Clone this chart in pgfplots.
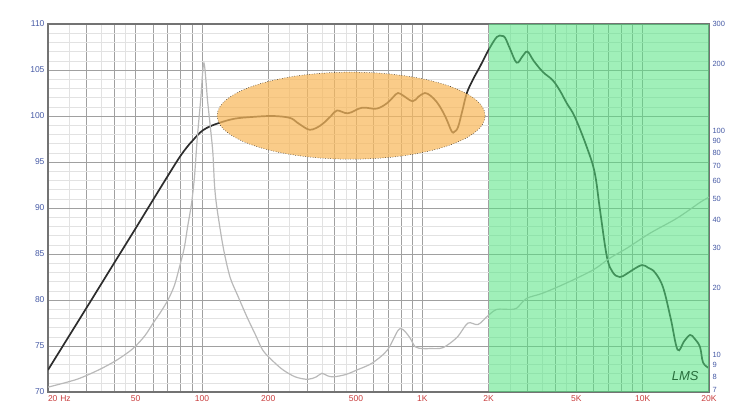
\documentclass[border=0pt]{standalone}
\usepackage{fontspec}
\setmainfont{Liberation Sans}
\usepackage{pgfplots}
\usepackage{pgfplotstable}
\pgfplotsset{compat=1.18}

\definecolor{tickblue}{RGB}{70,90,165}
\definecolor{tickred}{RGB}{200,60,60}
\definecolor{gridmaj}{RGB}{160,160,160}
\definecolor{gridmin}{RGB}{226,226,226}
\definecolor{framecol}{RGB}{115,115,115}
\definecolor{splcol}{RGB}{45,45,45}
\definecolor{impcol}{RGB}{185,185,185}
\definecolor{bandgreen}{RGB}{82,228,128}
\definecolor{ovalorange}{RGB}{248,184,91}
\definecolor{lmsgreen}{RGB}{40,110,60}

% SPL response (Hz, dB)
\pgfplotstableread{
f spl
20 72.4
30 79.2
40 84.05
50 87.8
60 90.9
70 93.5
79 95.5
86 96.7
92 97.5
98 98.2
105 98.7
118 99.2
140 99.7
170 99.9
210 100.0
250 99.8
270 99.3
290 98.8
308 98.5
330 98.7
355 99.2
385 100.0
410 100.6
460 100.3
532 100.9
620 100.8
692 101.4
740 102.1
776 102.5
820 102.2
904 101.6
960 102.1
1026 102.5
1090 102.2
1164 101.5
1230 100.6
1290 99.6
1360 98.3
1400 98.3
1452 98.8
1520 100.6
1592 102.5
1700 104.0
1820 105.3
2000 107.2
2180 108.6
2300 108.7
2375 108.5
2500 107.3
2680 105.8
2850 106.5
3000 107.0
3200 106.0
3520 104.8
3900 103.9
4200 102.8
4520 101.4
4920 99.9
5580 96.6
6060 93.8
6400 89.8
6880 84.7
7320 83.0
7870 82.5
8400 82.8
9040 83.3
9940 83.8
10600 83.5
11360 83.0
12360 81.4
13400 78.0
14400 74.6
15400 75.5
16400 76.2
17200 75.8
18200 74.9
18800 73.2
20000 72.6
}\spltable

% impedance (Hz, Ohm)
\pgfplotstableread{
f z
20 7.2
27 7.8
34 8.6
41 9.5
48.6 10.7
55 12.2
60 13.9
65 15.6
70 17.6
75 20.5
79 24.7
83 30
86 37.3
88 42.5
90 49
92.5 63
95 91
98.5 136
102 201
106 136
109 105
112 80
114 57
117 45
125 30
134 22.3
145 18.5
160 14.8
175 12.3
189 10.5
210 9.4
233 8.6
265 8.0
302 7.8
330 8.0
350 8.3
370 8.1
394 8.0
450 8.2
506 8.6
590 9.2
692 10.5
776 12.9
817 13.0
876 12.0
928 10.9
1000 10.7
1084 10.7
1240 10.8
1436 12.0
1610 13.9
1790 13.7
2000 15.1
2180 16.0
2500 16.0
2680 16.2
2970 17.9
3520 18.9
4520 21
5960 24
7100 27.1
8480 30
10800 35
14360 40.9
18200 48
20000 50.7
}\imptable

\begin{document}
\begin{tikzpicture}
\begin{axis}[
  xmode=log, xmin=20, xmax=20000,
  scale only axis, width=661pt, height=368pt,
  ymin=70, ymax=110,
  xtick={20,30,40,50,60,70,80,90,100,200,300,400,500,600,700,800,900,1000,
         2000,3000,4000,5000,6000,7000,8000,9000,10000,20000},
  xticklabels={\rlap{20\,\,Hz},,,50,,,,,100,200,,,500,,,,,1K,2K,,,5K,,,,,10K,20K},
  minor xtick={25,35,45,250,350,450,2500,3500,4500},
  ytick={70,75,...,110},
  minor ytick={71,72,73,74,76,77,78,79,81,82,83,84,86,87,88,89,91,92,93,94,
               96,97,98,99,101,102,103,104,106,107,108,109},
  grid=both,
  major grid style={gridmaj, line width=0.8pt},
  minor grid style={gridmin, line width=0.6pt},
  major tick length=0pt, minor tick length=0pt,
  ticklabel style={font=\fontsize{8.5}{10}\selectfont},
  xticklabel style={text=tickred},
  yticklabel style={text=tickblue},
  axis line style={framecol, line width=1.8pt},
  /pgf/number format/assume math mode=true,
]
\addplot[splcol, line width=1.7pt, smooth, tension=0.6] table[x=f, y=spl] {\spltable};
\node[anchor=south west, inner sep=1pt, text=tickblue, font=\fontsize{8}{9}\selectfont]
  at (rel axis cs:0,1) {dBSPL};
\node[anchor=south east, inner sep=1pt, text=tickblue, font=\fontsize{8}{9}\selectfont]
  at (rel axis cs:1,1) {Ohm};
\end{axis}

\begin{axis}[
  xmode=log, xmin=20, xmax=20000,
  ymode=log, ymin=6.85, ymax=300,
  scale only axis, width=661pt, height=368pt,
  axis x line=none,
  axis y line*=right,
  y axis line style={framecol, line width=1.2pt},
  major tick length=0pt, minor tick length=0pt,
  ytick={7,8,9,10,20,30,40,50,60,70,80,90,100,200,300},
  yticklabels={7,8,9,10,20,30,40,50,60,70,80,90,100,200,300},
  yticklabel style={text=tickblue, font=\fontsize{7.5}{9}\selectfont},
]
\addplot[impcol, line width=1.2pt, smooth, tension=0.5] table[x=f, y=z] {\imptable};
\fill[bandgreen, fill opacity=0.55] (axis cs:2000,6.85) rectangle (axis cs:20000,300);
\draw[black, dotted, line width=0.5pt, fill=ovalorange, fill opacity=0.72]
  (axis cs:475,117) ellipse [x radius=134pt, y radius=43.5pt];
\node[text=lmsgreen, font=\itshape\fontsize{13}{14}\selectfont]
  at (rel axis cs:0.964,0.043) {LMS};
\end{axis}
\pgfresetboundingbox
\useasboundingbox (-48pt,-24pt) rectangle (704pt,392pt);
\end{tikzpicture}
\end{document}
